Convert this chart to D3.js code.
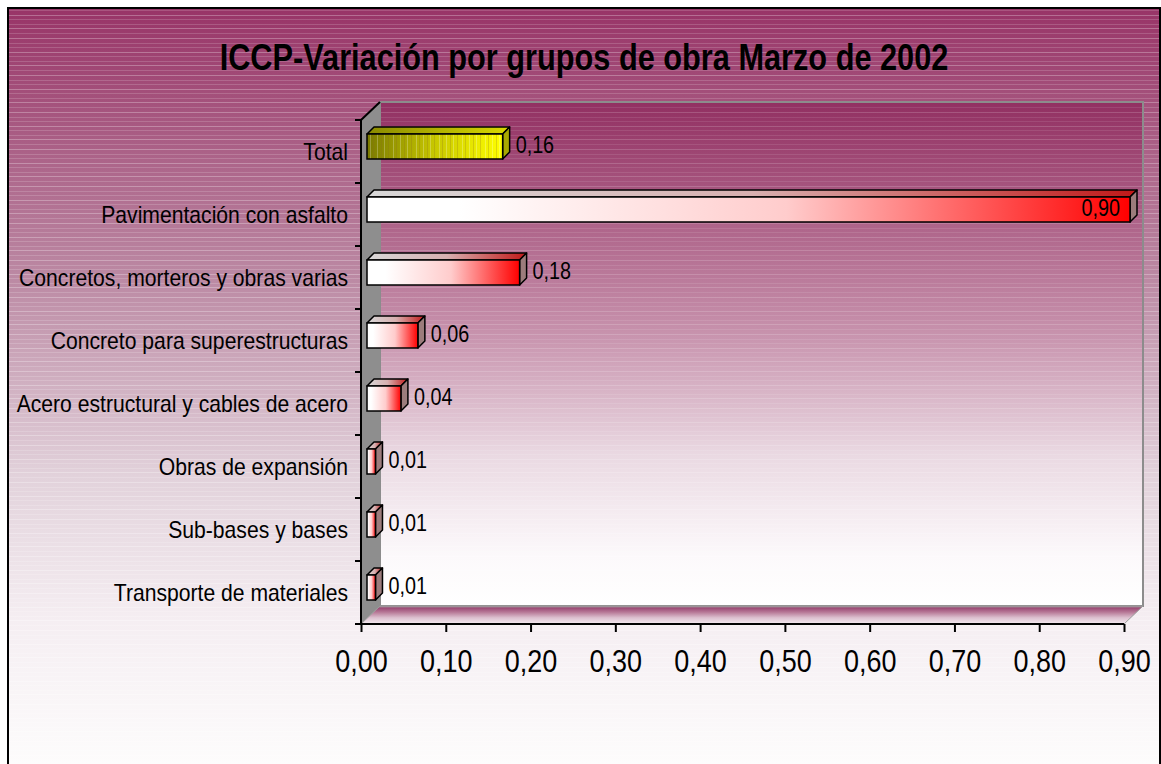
<!DOCTYPE html>
<html>
<head>
<meta charset="utf-8">
<script src="https://cdn.jsdelivr.net/npm/d3@7"></script>
<style>
body { margin: 0; background: #fff; }
text { font-family: "Liberation Sans", Arial, sans-serif; fill: #000; }
</style>
</head>
<body>
<div id="chart"></div>
<script>
// data
var categories = ["Total", "Pavimentación con asfalto", "Concretos, morteros y obras varias",
    "Concreto para superestructuras", "Acero estructural y cables de acero",
    "Obras de expansión", "Sub-bases y bases", "Transporte de materiales"];
var values = [0.16, 0.90, 0.18, 0.06, 0.04, 0.01, 0.01, 0.01];
var valueLabels = ["0,16", "0,90", "0,18", "0,06", "0,04", "0,01", "0,01", "0,01"];
var tickValues = [0, 0.1, 0.2, 0.3, 0.4, 0.5, 0.6, 0.7, 0.8, 0.9];
var tickLabels = ["0,00", "0,10", "0,20", "0,30", "0,40", "0,50", "0,60", "0,70", "0,80", "0,90"];
var title = "ICCP-Variación por grupos de obra Marzo de 2002";

var W = 1161, H = 764;
// horizontal squeeze to imitate Arial Narrow
var SQ_TITLE = 0.83, SQ_CAT = 0.92, SQ_VAL = 0.86, SQ_TICK = 0.87;
var DX = 19, DY = -18;      // 3d depth of the walls
var BX = 6, BY = -5;        // bar offset into the depth
var BD = 7;                 // bar depth

var svg = d3.select("#chart")
    .append("svg")
    .attr("width", W)
    .attr("height", H);

var defs = svg.append("defs");

function vGrad(id, stops, y1, y2) {
    var g = defs.append("linearGradient").attr("id", id)
        .attr("x1", 0).attr("x2", 0);
    if (y1 !== undefined) {
        g.attr("gradientUnits", "userSpaceOnUse").attr("y1", y1).attr("y2", y2);
    } else {
        g.attr("y1", 0).attr("y2", 1);
    }
    stops.forEach(function(s) {
        g.append("stop").attr("offset", s[0]).attr("stop-color", s[1]);
    });
}
function hGrad(id, stops) {
    var g = defs.append("linearGradient").attr("id", id)
        .attr("x1", 0).attr("x2", 1).attr("y1", 0).attr("y2", 0);
    stops.forEach(function(s) {
        g.append("stop").attr("offset", s[0]).attr("stop-color", s[1]);
    });
}

vGrad("bg", [[0, "#983467"], [0.36, "#bc8aa4"], [0.62, "#e2d2db"], [0.81, "#f5eef2"], [1, "#fdfcfc"]], 8, 764);
vGrad("wall", [[0, "#923062"], [0.45, "#c690ab"], [0.7, "#ead9e2"], [0.9, "#fcf9fb"], [1, "#ffffff"]], 102, 606);
vGrad("floor", [[0, "#a0a0a0"], [0.12, "#9c4c76"], [0.35, "#b87a98"], [0.65, "#dcc0cf"], [1, "#f4eaf0"]]);
hGrad("redFront", [[0, "#ffffff"], [0.12, "#ffffff"], [0.55, "#ffcccc"], [1, "#ff0000"]]);
hGrad("redTop", [[0, "#d8d8d8"], [0.5, "#d8b0b0"], [1, "#c01818"]]);
hGrad("yelFront", [[0, "#7a7a00"], [0.5, "#c8c800"], [1, "#ffff00"]]);
hGrad("yelTop", [[0, "#8a8a00"], [1, "#dada00"]]);

// horizontal light stripes
var stripe = defs.append("pattern").attr("id", "stripes")
    .attr("patternUnits", "userSpaceOnUse").attr("width", 40).attr("height", 37);
[1, 6, 10, 15, 19, 24, 28, 33].forEach(function(o, i) {
    stripe.append("rect").attr("x", 0).attr("y", o).attr("width", 40).attr("height", 1)
        .attr("fill", "#fff").attr("opacity", i % 3 === 0 ? 0.28 : 0.16);
});
// vertical streaks for the total bar
var streak = defs.append("pattern").attr("id", "streaks")
    .attr("patternUnits", "userSpaceOnUse").attr("width", 23).attr("height", 10);
[2, 5, 9, 13, 16, 20].forEach(function(o, i) {
    streak.append("rect").attr("x", o).attr("y", 0).attr("width", 1).attr("height", 10)
        .attr("fill", i % 2 ? "#8a6a20" : "#fff").attr("opacity", 0.25);
});

// background
svg.append("rect").attr("x", 8).attr("y", 8).attr("width", 1152).attr("height", 770)
    .attr("fill", "url(#bg)");
svg.append("rect").attr("x", 8).attr("y", 8).attr("width", 1152).attr("height", 770)
    .attr("fill", "url(#stripes)");

// scales
var x = d3.scaleLinear().domain([0, 0.9]).range([361, 1124]);
var y = d3.scaleBand().domain(categories).range([120, 624]);
var x0 = x.range()[0], x1 = x.range()[1], yTop = y.range()[0], yBot = y.range()[1];

// back wall
svg.append("rect").attr("x", x0 + DX).attr("y", yTop + DY)
    .attr("width", x1 - x0).attr("height", yBot - yTop)
    .attr("fill", "url(#wall)");
svg.append("rect").attr("x", x0 + DX).attr("y", yTop + DY)
    .attr("width", x1 - x0).attr("height", yBot - yTop)
    .attr("fill", "url(#stripes)").attr("opacity", 0.6);
svg.append("rect").attr("x", x0 + DX).attr("y", yTop + DY)
    .attr("width", x1 - x0).attr("height", yBot - yTop)
    .attr("fill", "none").attr("stroke", "#8c8c8c").attr("stroke-width", 2);

// left side wall
svg.append("polygon")
    .attr("points", [[x0, yTop], [x0 + DX, yTop + DY], [x0 + DX, yBot + DY], [x0, yBot]].join(" "))
    .attr("fill", "#8e8e8e");

// floor
svg.append("polygon")
    .attr("points", [[x0, yBot], [x1, yBot], [x1 + DX, yBot + DY], [x0 + DX, yBot + DY]].join(" "))
    .attr("fill", "url(#floor)")
    .attr("stroke", "#9a9a9a").attr("stroke-width", 1);

// bars
var bars = svg.selectAll(".bar")
    .data(categories)
    .enter()
    .append("g")
    .attr("class", "bar");

function yc(c) { return y(c) + y.bandwidth() / 2; }

bars.each(function(c, i) {
    var g = d3.select(this);
    var left = x(0) + BX, right = x(values[i]) + BX;
    var top = yc(c) + BY - 12.5, bot = yc(c) + BY + 12.5;
    var isTotal = i === 0;
    g.append("polygon")
        .attr("points", [[left, top], [right, top], [right + BD, top - BD], [left + BD, top - BD]].join(" "))
        .attr("fill", isTotal ? "url(#yelTop)" : "url(#redTop)")
        .attr("stroke", "#000").attr("stroke-width", 1.5).attr("stroke-linejoin", "round");
    g.append("polygon")
        .attr("points", [[right, top], [right + BD, top - BD], [right + BD, bot - BD], [right, bot]].join(" "))
        .attr("fill", isTotal ? "#a8a800" : "#9c7c7c")
        .attr("stroke", "#000").attr("stroke-width", 1.5).attr("stroke-linejoin", "round");
    g.append("rect")
        .attr("x", left).attr("y", top)
        .attr("width", right - left).attr("height", bot - top)
        .attr("fill", isTotal ? "url(#yelFront)" : "url(#redFront)");
    if (isTotal) {
        g.append("rect")
            .attr("x", left).attr("y", top)
            .attr("width", right - left).attr("height", bot - top)
            .attr("fill", "url(#streaks)");
    }
    g.append("rect")
        .attr("x", left).attr("y", top)
        .attr("width", right - left).attr("height", bot - top)
        .attr("fill", "none")
        .attr("stroke", "#000").attr("stroke-width", 1.5);

    // value label
    var t = g.append("text")
        .style("font-size", "23px")
        .text(valueLabels[i]);
    var tw = t.node().getComputedTextLength() * SQ_VAL;
    var lx = right + BD + 6;
    if (lx + tw > x1 + DX) {
        lx = right - 10;
        t.attr("text-anchor", "end");
    }
    t.attr("transform", "translate(" + lx + "," + (yc(c) + 1.5) + ") scale(" + SQ_VAL + ",1)");
});

// category labels
svg.selectAll(".cat")
    .data(categories)
    .enter()
    .append("text")
    .attr("class", "cat")
    .attr("text-anchor", "end")
    .style("font-size", "23px")
    .attr("transform", function(c) {
        return "translate(348," + (yc(c) + 8.5) + ") scale(" + SQ_CAT + ",1)";
    })
    .text(function(c) { return c; });

// left axis: line, top diagonal, ticks at band edges
svg.append("line").attr("x1", x0).attr("x2", x0).attr("y1", yTop).attr("y2", yBot)
    .attr("stroke", "#000").attr("stroke-width", 2);
svg.append("line").attr("x1", x0).attr("x2", x0 + DX).attr("y1", yTop).attr("y2", yTop + DY)
    .attr("stroke", "#000").attr("stroke-width", 2);
svg.selectAll(".ytick")
    .data(categories)
    .enter()
    .append("line")
    .attr("class", "ytick")
    .attr("x1", x0 - 6).attr("x2", x0)
    .attr("y1", function(c) { return y(c); })
    .attr("y2", function(c) { return y(c); })
    .attr("stroke", "#000").attr("stroke-width", 2);

// bottom axis
var xAxis = svg.append("g")
    .attr("transform", "translate(0," + yBot + ")")
    .call(d3.axisBottom(x)
        .tickValues(tickValues)
        .tickFormat(function(d, i) { return tickLabels[i]; })
        .tickSize(8)
        .tickSizeOuter(0));
xAxis.select(".domain").remove();
xAxis.append("line").attr("x1", x0 - 6).attr("x2", x1).attr("y1", 0).attr("y2", 0)
    .attr("stroke", "#000").attr("stroke-width", 2);
xAxis.selectAll(".tick line").attr("stroke", "#000").attr("stroke-width", 2);
xAxis.selectAll(".tick text")
    .attr("y", 26)
    .attr("fill", "#000")
    .style("font-size", "31px")
    .style("font-family", "'Liberation Sans', Arial, sans-serif")
    .attr("transform", "scale(" + SQ_TICK + ",1)")
    .attr("x", 0);

// title
svg.append("text")
    .attr("text-anchor", "middle")
    .style("font-size", "37px")
    .style("font-weight", "bold")
    .attr("transform", "translate(584,70) scale(" + SQ_TITLE + ",1)")
    .text(title);

// outer border
svg.append("rect").attr("x", 8).attr("y", 8).attr("width", 1152).attr("height", 770)
    .attr("fill", "none").attr("stroke", "#000").attr("stroke-width", 2);
</script>
</body>
</html>
